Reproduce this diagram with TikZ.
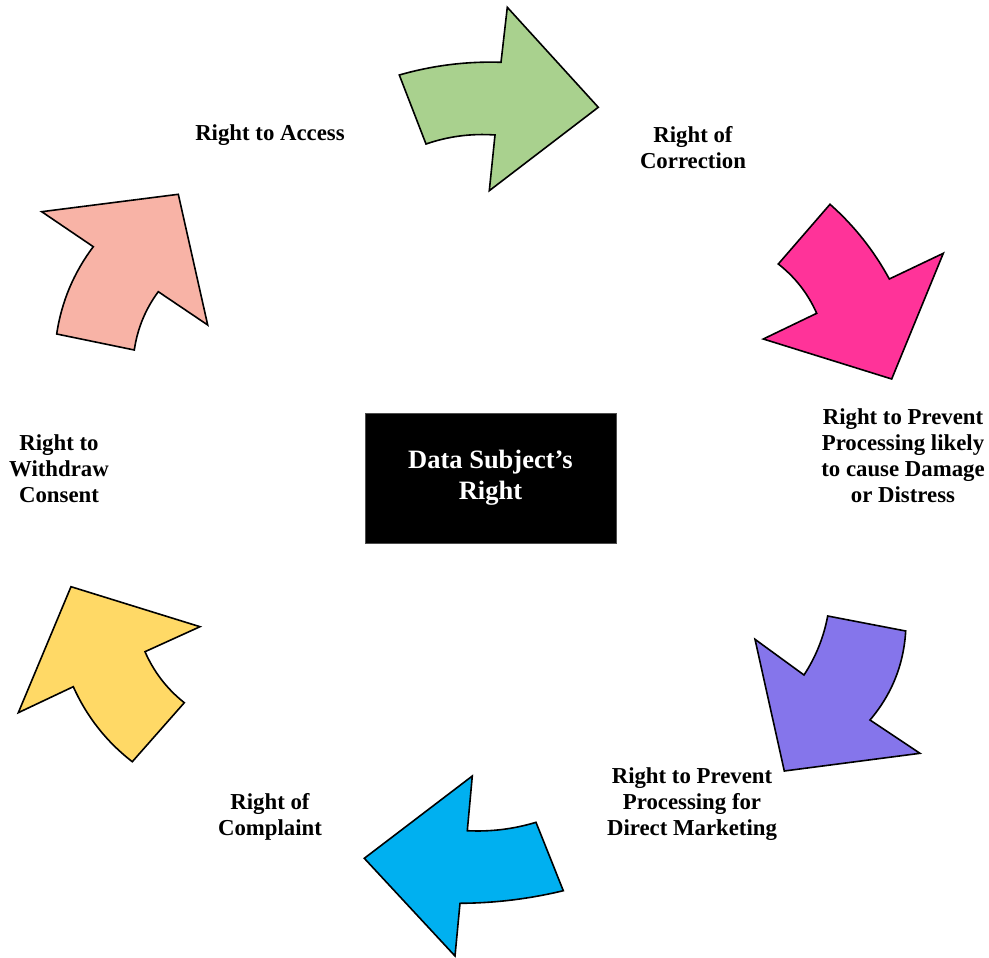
\documentclass[tikz,border=0pt]{standalone}
\usepackage{fontspec}
\setmainfont{Liberation Serif}
\definecolor{cgreen}{HTML}{A9D18E}
\definecolor{cpink}{HTML}{FF3399}
\definecolor{cpurple}{HTML}{8575EB}
\definecolor{cblue}{HTML}{00B0F0}
\definecolor{cyellow}{HTML}{FFD966}
\definecolor{csalmon}{HTML}{F8B3A6}
\tikzset{
  blockarrow/.style={draw=black, line width=1.6pt, line join=miter},
  lbl/.style={font=\fontsize{22.8}{26}\selectfont\bfseries, align=center, inner sep=0pt},
  centerbox/.style={draw=black!70, line width=1pt, fill=black, text=white,
    minimum width=251pt, minimum height=130pt, inner sep=0pt,
    font=\fontsize{26.5}{31}\selectfont\bfseries, align=center}
}
\begin{document}
\begin{tikzpicture}[x=1pt,y=-1pt]
\path[use as bounding box] (0,0) rectangle (989,958);
% green arrow
\filldraw[blockarrow, fill=cgreen] (399.3,75) .. controls (432.5,65.5) and (466.4,61.2) .. (501,62.3)
  -- (507.3,7.3) -- (598.3,107.3) -- (489.3,190.7) -- (495,135)
  .. controls (471.4,133.3) and (448.4,136.3) .. (426,144) -- cycle;
% pink arrow
\filldraw[blockarrow, fill=cpink] (830,204.3) .. controls (854.2,225.7) and (873.9,250.6) .. (889.3,279)
  -- (943.3,253.3) -- (891.7,379) -- (763.3,339) -- (816.7,313.3)
  .. controls (808,293.7) and (795.2,277.2) .. (778.3,264) -- cycle;
% purple arrow
\filldraw[blockarrow, fill=cpurple] (827.7,616) -- (905.7,631)
  .. controls (903.7,664.7) and (891.8,694.3) .. (870,720) -- (920,753.3) -- (784.3,771)
  -- (755,639.3) -- (804,675) .. controls (815.8,656.9) and (823.7,637.3) .. cycle;
% blue arrow
\filldraw[blockarrow, fill=cblue] (536,822.3) -- (563.3,890.7)
  .. controls (529.4,898.9) and (494.9,903.1) .. (460,903.3) -- (455,956) -- (364.3,858.3)
  -- (472.3,776) -- (467.3,830.7) .. controls (490.7,831.9) and (513.6,829.1) .. cycle;
% yellow arrow
\filldraw[blockarrow, fill=cyellow] (71,586.7) -- (200,626.7) -- (145,651.7)
  .. controls (153.9,672) and (167,689) .. (184.3,702.7) -- (132.3,761.7)
  .. controls (106.3,741.6) and (86.7,716.6) .. (73.3,686.7) -- (18.3,712.7) -- cycle;
% salmon arrow
\filldraw[blockarrow, fill=csalmon] (41.7,211.7) -- (178.3,194.3) -- (207.7,325)
  -- (158.3,291.7) .. controls (145.4,309.1) and (137.4,328.6) .. (134.3,350) -- (56.7,334)
  .. controls (61.5,301.8) and (73.7,272.7) .. (93.3,246.7) -- cycle;
% centre
\node[centerbox] (center) at (490.5,478) {Data Subject’s\\Right};
% labels
\node[lbl] (access) at (270,135) {Right to Access};
\node[lbl] (correction) at (693,148) {Right of\\Correction};
\node[lbl] (damage) at (903,456) {Right to Prevent\\Processing likely\\to cause Damage\\or Distress};
\node[lbl] (marketing) at (692,804) {Right to Prevent\\Processing for\\Direct Marketing};
\node[lbl] (complaint) at (270,817) {Right of\\Complaint};
\node[lbl] (withdraw) at (59,469) {Right to\\Withdraw\\Consent};
\end{tikzpicture}
\end{document}
